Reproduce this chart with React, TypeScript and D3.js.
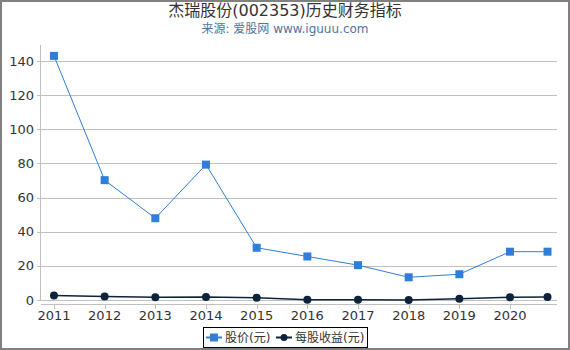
import React from 'react';
import * as d3 from 'd3';

// 报告期 (year position, last one is a partial year)
const periods = [2011, 2012, 2013, 2014, 2015, 2016, 2017, 2018, 2019, 2020, 2020.74];
const price = [143, 70.2, 47.9, 79.3, 30.6, 25.5, 20.4, 13.3, 15.1, 28.3, 28.3];
const eps = [2.6, 2.0, 1.6, 1.8, 1.3, 0.1, 0.1, 0.05, 0.7, 1.6, 1.8];
const yTicks = [0, 20, 40, 60, 80, 100, 120, 140];
const xTicks = [2011, 2012, 2013, 2014, 2015, 2016, 2017, 2018, 2019, 2020];

const W = 570, H = 350;
const font = '"DejaVu Sans", "Noto Sans CJK SC", sans-serif';
const priceColor = '#2f7ed8';
const epsColor = '#0d233a';

const App = () => {
	const x = d3.scaleLinear().domain([2010.744, 2020.927]).range([41, 557]);
	const y = d3.scaleLinear().domain([0, 140]).range([300, 61]);

	const line = d3
		.line<number>()
		.x((d, i) => x(periods[i]))
		.y((d) => y(d));

	return (
		<svg width={W} height={H} style={{ position: 'absolute', left: 0, top: 0 }} fontFamily={font}>
			<rect x={1} y={1} width={W - 2} height={H - 2} fill="#fff" stroke="#808080" strokeWidth={2} />
			<text x={285} y={16} textAnchor="middle" fontSize={16} fill="#333">
				杰瑞股份(002353)历史财务指标
			</text>
			<text x={285} y={33} textAnchor="middle" fontSize={12} fill="#4d759e">
				来源: 爱股网 www.iguuu.com
			</text>

			{/* grid */}
			{yTicks.map((t) => (
				<g key={t}>
					<line x1={41} x2={557} y1={Math.round(y(t)) + 0.5} y2={Math.round(y(t)) + 0.5} stroke="#c0c0c0" />
					<line x1={37} x2={41} y1={Math.round(y(t)) + 0.5} y2={Math.round(y(t)) + 0.5} stroke="#c0c0c0" />
					<text x={34} y={y(t) + 4.5} textAnchor="end" fontSize={13} fill="#333">
						{t}
					</text>
				</g>
			))}
			<line x1={40.5} x2={40.5} y1={45} y2={300} stroke="#c0c0c0" />
			<line x1={41} x2={557} y1={304.5} y2={304.5} stroke="#c0c0c0" />
			{xTicks.map((t) => (
				<g key={t}>
					<line x1={Math.round(x(t)) + 0.5} x2={Math.round(x(t)) + 0.5} y1={304} y2={309} stroke="#c0c0c0" />
					<text x={x(t)} y={320} textAnchor="middle" fontSize={13} fill="#333">
						{t}
					</text>
				</g>
			))}

			{/* series */}
			<path d={line(price) || ''} fill="none" stroke={priceColor} strokeWidth={1} />
			{price.map((v, i) => (
				<rect key={i} x={x(periods[i]) - 4} y={y(v) - 4} width={8} height={8} fill={priceColor} />
			))}
			<path d={line(eps) || ''} fill="none" stroke={epsColor} strokeWidth={1.5} />
			{eps.map((v, i) => (
				<circle key={i} cx={x(periods[i])} cy={y(v)} r={4} fill={epsColor} />
			))}

			{/* legend */}
			<rect x={203.5} y={327.5} width={164} height={20} fill="#fff" stroke="#000" />
			<line x1={206} x2={222} y1={337.5} y2={337.5} stroke={priceColor} strokeWidth={2} />
			<rect x={210} y={333.5} width={8} height={8} fill={priceColor} />
			<text x={225} y={342} fontSize={12} fill="#333">
				股价(元)
			</text>
			<line x1={276} x2={292} y1={337.5} y2={337.5} stroke={epsColor} strokeWidth={2} />
			<circle cx={284} cy={337.5} r={3.5} fill={epsColor} />
			<text x={295} y={342} fontSize={12} fill="#333">
				每股收益(元)
			</text>
		</svg>
	);
};

export default App;
